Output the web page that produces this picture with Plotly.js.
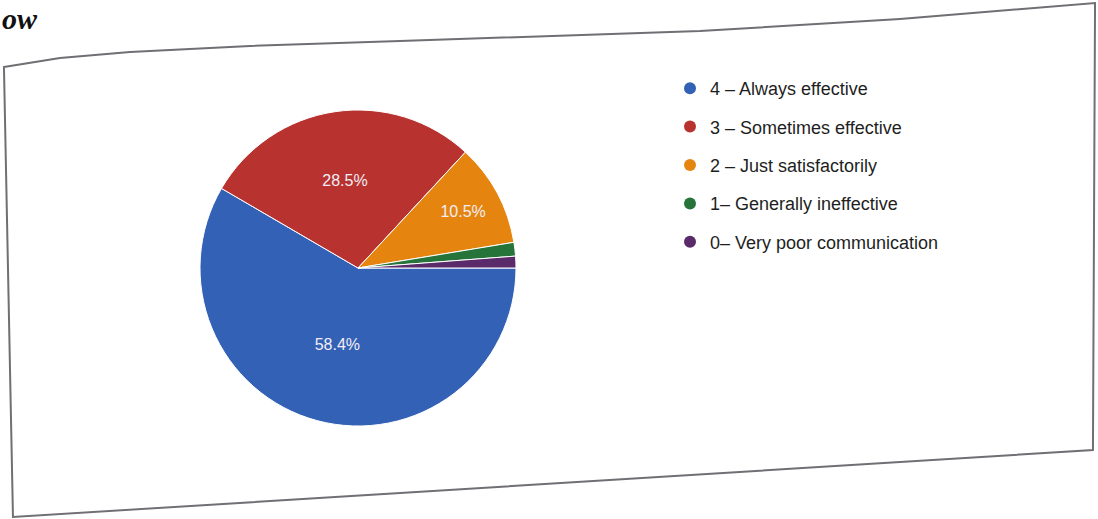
<!DOCTYPE html>
<html>
<head>
<meta charset="utf-8">
<script src="https://cdn.plot.ly/plotly-3.0.1.min.js"></script>
<style>
  html, body { margin: 0; padding: 0; background: #ffffff; }
  #chart { width: 1098px; height: 519px; }
</style>
</head>
<body>
<div id="chart"></div>
<script>
// ---- data ----
const labels = [
  "4 – Always effective",
  "3 – Sometimes effective",
  "2 – Just satisfactorily",
  "1– Generally ineffective",
  "0– Very poor communication"
];
const percents = [58.4, 28.5, 10.5, 1.4, 1.2];
const sliceColors = ["#3261b5", "#b8322f", "#e5850f", "#27743a", "#5a2a6a"];
const showLabel = [true, true, true, false, false];

// ---- helpers (page pixels -> paper coords) ----
const W = 1098, H = 519;
const px = x => x / W;
const py = y => 1 - y / H;

// card outline of the photographed page
const cardPts = [[4,67],[60,58],[130,52],[250,46],[400,41],[700,31],[900,19],[1095,3],
                 [1093,450],[13,517]];
const path = "M " + cardPts.map(p => px(p[0]).toFixed(4) + "," + py(p[1]).toFixed(4)).join(" L ") + " Z";

const texts = percents.map((v, i) => showLabel[i] ? v.toFixed(1) + "%" : "");

const pieTrace = {
  type: "pie",
  labels: labels,
  values: percents,
  text: texts,
  textinfo: "text",
  textposition: "inside",
  insidetextorientation: "horizontal",
  sort: false,
  direction: "clockwise",
  rotation: 90,
  showlegend: false,
  marker: { colors: sliceColors, line: { color: "#ffffff", width: 1 } },
  textfont: { family: "Liberation Sans, Arial, sans-serif", size: 16, color: "#f3eef5" },
  domain: { x: [px(200), px(516)], y: [py(426), py(110)] },
  hoverinfo: "label+percent"
};

// legend entries (circle markers, as in the reference legend)
const legendTraces = labels.map((lab, i) => ({
  type: "scatter", mode: "markers",
  x: [null], y: [null],
  name: lab,
  legendgroup: "g" + i,
  marker: { color: sliceColors[i], size: 15, symbol: "circle" },
  hoverinfo: "skip"
}));

const layout = {
  width: W, height: H,
  margin: { l: 0, r: 0, t: 0, b: 0 },
  paper_bgcolor: "#ffffff",
  plot_bgcolor: "rgba(0,0,0,0)",
  xaxis: { visible: false },
  yaxis: { visible: false },
  showlegend: true,
  legend: {
    x: px(670), y: py(70), xanchor: "left", yanchor: "top",
    font: { family: "Liberation Sans, Arial, sans-serif", size: 18, color: "#1e1e1e" },
    bgcolor: "rgba(0,0,0,0)",
    tracegroupgap: 12,
    itemsizing: "constant"
  },
  shapes: [{
    type: "path", xref: "paper", yref: "paper", path: path,
    line: { color: "#6f6f74", width: 2 }, fillcolor: "rgba(0,0,0,0)", layer: "below"
  }],
  annotations: [{
    text: "<b><i>ow</i></b>", xref: "paper", yref: "paper",
    x: px(0), y: py(0), xanchor: "left", yanchor: "top", showarrow: false,
    font: { family: "Liberation Serif, serif", size: 30, color: "#111111" }
  }]
};

Plotly.newPlot("chart", [pieTrace].concat(legendTraces), layout, { displayModeBar: false, staticPlot: true });
</script>
</body>
</html>
